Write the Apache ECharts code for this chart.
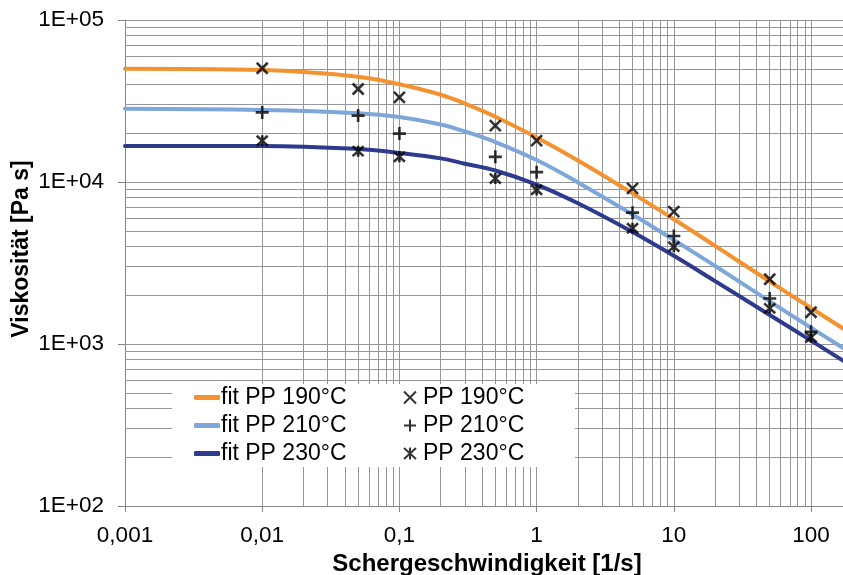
<!DOCTYPE html>
<html>
<head>
<meta charset="utf-8">
<script src="https://cdn.jsdelivr.net/npm/echarts@6/dist/echarts.min.js"></script>
<style>
html,body{margin:0;padding:0;background:#fff;}
#c{width:843px;height:575px;}
</style>
</head>
<body>
<div id="c"></div>
<script>
// ---- data ----
var shearFit = [0.001, 0.01, 0.05, 0.1, 0.2, 0.3, 0.5, 1, 2, 5, 10, 20, 50, 100, 171];
var fit190 = [50000, 49100, 44700, 40100, 34550, 30480, 25300, 18820, 13580, 8510, 5890, 4030, 2430, 1667, 1247];
var fit210 = [28300, 27800, 26600, 25190, 22640, 20500, 17650, 13670, 9940, 6300, 4385, 3030, 1834, 1259, 945];
var fit230 = [16700, 16700, 16000, 15100, 13990, 12970, 11780, 9640, 7387, 4913, 3503, 2445, 1510, 1049, 790];

var shearData = [0.01, 0.05, 0.1, 0.5, 1, 5, 10, 50, 100];
var pp190 = [50400, 37500, 33300, 22300, 18000, 9140, 6560, 2510, 1570];
var pp210 = [26900, 25700, 19900, 14300, 11500, 6470, 4640, 1910, 1190];
var pp230 = [18000, 15500, 14300, 10500, 8940, 5180, 3990, 1660, 1100];

var fitNames = ['fit PP 190°C', 'fit PP 210°C', 'fit PP 230°C'];
var ptNames = ['PP 190°C', 'PP 210°C', 'PP 230°C'];
var xTickLabels = ['0,001', '0,01', '0,1', '1', '10', '100'];
var yTickLabels = ['1E+02', '1E+03', '1E+04', '1E+05'];
var xTitle = 'Schergeschwindigkeit [1/s]';
var yTitle = 'Viskosität [Pa s]';

var xMin = 0.001, xMax = 171, yMin = 100, yMax = 100000;

function pairs(xs, ys) { return xs.map(function (x, i) { return [x, ys[i]]; }); }

// minor/major grid positions (1..9 x 10^n)
var gridData = [];
for (var d = -3; d <= 2; d++) for (var k = 1; k <= 9; k++) {
  var v = k * Math.pow(10, d);
  if (v > xMin * 1.0001 && v < xMax) gridData.push({ xAxis: v });
}
for (var d2 = 2; d2 <= 4; d2++) for (var k2 = 1; k2 <= 9; k2++) {
  var w = k2 * Math.pow(10, d2);
  if (w > yMin * 1.0001) gridData.push({ yAxis: w });
}
gridData.push({ yAxis: yMax });

var FONT = 'Liberation Sans';
var GRID = '#969696';

var crossPath = 'path://M0,0L10,10M10,0L0,10';
var plusPath = 'path://M5,0L5,10M0,5L10,5';
var starPath = 'path://M0,0.5L10,9.5M10,0.5L0,9.5M5,0L5,10';

var colors = ['#F39231', '#7DA7D9', '#2E3A8E'];

function xLab(v) {
  var l = Math.log10(v) + 3;
  var r = Math.round(l);
  return Math.abs(l - r) < 1e-6 && xTickLabels[r] !== undefined ? xTickLabels[r] : '';
}
function yLab(v) {
  var l = Math.log10(v) - 2;
  var r = Math.round(l);
  return Math.abs(l - r) < 1e-6 && yTickLabels[r] !== undefined ? yTickLabels[r] : '';
}

var series = [{
  name: '_grid', type: 'line', data: [], z: 1, silent: true,
  markLine: {
    silent: true, z: 1, animation: false, symbol: ['none', 'none'],
    label: { show: false },
    lineStyle: { color: GRID, width: 1, type: 'solid' },
    emphasis: { disabled: true },
    data: gridData
  }
}];
[fit190, fit210, fit230].forEach(function (arr, i) {
  series.push({
    name: fitNames[i], type: 'line', data: pairs(shearFit, arr), z: 2,
    smooth: 0.4, showSymbol: false, symbol: 'none',
    lineStyle: { color: colors[i], width: 4, cap: 'round' },
    itemStyle: { color: colors[i] }
  });
});
var syms = [crossPath, plusPath, starPath];
var sizes = [11, 13, 11];
[pp190, pp210, pp230].forEach(function (arr, i) {
  series.push({
    name: ptNames[i], type: 'scatter', data: pairs(shearData, arr), z: 3,
    symbol: syms[i], symbolSize: sizes[i], symbolKeepAspect: true,
    itemStyle: { color: 'rgba(0,0,0,0)', borderColor: '#000', borderWidth: 2.6 }
  });
});

var chart = echarts.init(document.getElementById('c'), null, { renderer: 'canvas' });
chart.setOption({
  animation: false,
  backgroundColor: '#fff',
  textStyle: { fontFamily: FONT },
  grid: { left: 125, right: 0, top: 20, bottom: 69, containLabel: false, outerBoundsMode: 'none' },
  xAxis: {
    type: 'log', logBase: 10, min: xMin, max: xMax,
    name: xTitle, nameLocation: 'middle', nameGap: 36,
    nameTextStyle: { fontFamily: FONT, fontSize: 24, fontWeight: 'bold', color: '#000', padding: [0, 0, 0, 6] },
    axisLine: { show: true, lineStyle: { color: '#868686', width: 1 } },
    axisTick: { show: true, length: 6, lineStyle: { color: '#868686' } },
    axisLabel: { formatter: xLab, fontSize: 22.5, color: '#000', margin: 18, fontFamily: FONT, showMaxLabel: false },
    splitLine: { show: false }, minorTick: { show: false }
  },
  yAxis: {
    type: 'log', logBase: 10, min: yMin, max: yMax,
    axisLine: { show: true, lineStyle: { color: '#868686', width: 1 } },
    axisTick: { show: true, length: 7, lineStyle: { color: '#868686' } },
    axisLabel: { formatter: yLab, fontSize: 22.5, color: '#000', margin: 21, fontFamily: FONT },
    splitLine: { show: false }
  },
  legend: [{
    data: fitNames.map(function (n) { return { name: n, icon: 'roundRect' }; }),
    orient: 'vertical', left: 194, top: 386, padding: 0,
    itemWidth: 26, itemHeight: 5, itemGap: 5, z: 5,
    textStyle: { fontFamily: FONT, fontSize: 23, color: '#000', padding: [0, 0, 0, -4] },
    selectedMode: false
  }, {
    data: ptNames, orient: 'vertical', left: 403, top: 386, padding: 0,
    itemWidth: 12, itemHeight: 12, itemGap: 5, z: 5,
    textStyle: { fontFamily: FONT, fontSize: 23, color: '#000', padding: [0, 0, 0, 2] },
    selectedMode: false
  }],
  graphic: [{
    type: 'rect', z: 4, silent: true,
    shape: { x: 172, y: 384, width: 403, height: 83 },
    style: { fill: '#fff' }
  }, {
    type: 'text', z: 5, silent: true, x: 22, y: 249, rotation: Math.PI / 2,
    style: { text: yTitle, fontFamily: FONT, fontSize: 23, fontWeight: 'bold', fill: '#000', align: 'center', verticalAlign: 'middle' }
  }],
  series: series
});
</script>
</body>
</html>
